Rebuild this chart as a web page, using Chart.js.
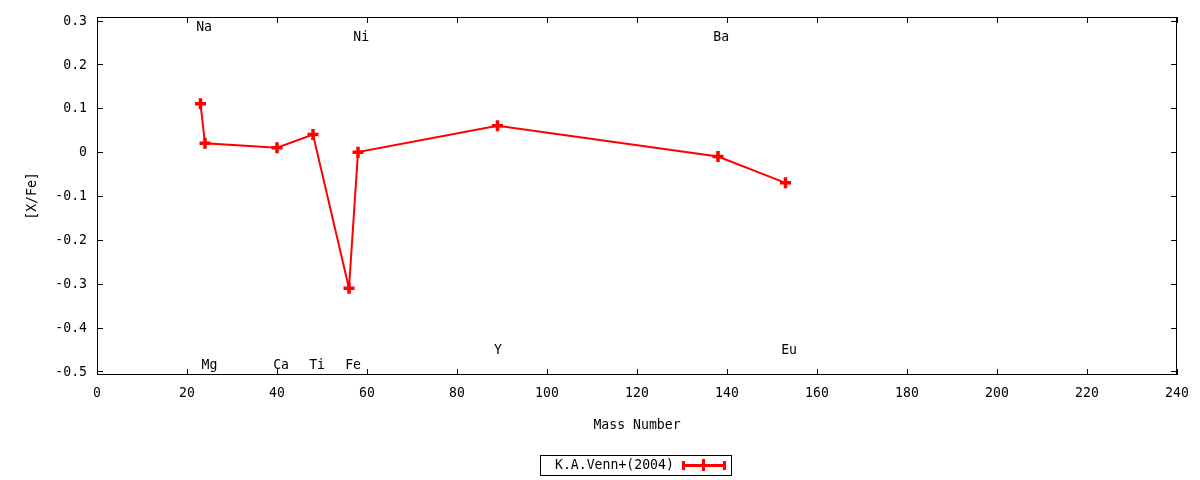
<!DOCTYPE html>
<html>
<head>
<meta charset="utf-8">
<script src="https://cdn.jsdelivr.net/npm/chart.js@4"></script>
<style>
  html, body { margin: 0; padding: 0; background: #fff; }
  #wrap { width: 1200px; height: 480px; }
</style>
</head>
<body>
<div id="wrap"><canvas id="abund"></canvas></div>
<script>
// Venn et al. (2004) abundances vs mass number
const elements = ['Na', 'Mg', 'Ca', 'Ti', 'Fe', 'Ni', 'Y', 'Ba', 'Eu'];
const massNumber = [23, 24, 40, 48, 56, 58, 89, 138, 153];
const xFe = [0.11, 0.02, 0.01, 0.04, -0.31, 0.00, 0.06, -0.01, -0.07];

// element labels (data coords)
const labelX = [23.8, 25.0, 40.9, 48.9, 56.9, 58.7, 89.1, 138.7, 153.8];
const labelY = [0.285, -0.485, -0.485, -0.485, -0.485, 0.262, -0.452, 0.262, -0.452];

const xTicks = [0, 20, 40, 60, 80, 100, 120, 140, 160, 180, 200, 220, 240];
const yTicks = [-0.5, -0.4, -0.3, -0.2, -0.1, 0, 0.1, 0.2, 0.3];
const yTickLabels = ['-0.5', '-0.4', '-0.3', '-0.2', '-0.1', '0', '0.1', '0.2', '0.3'];

const seriesName = 'K.A.Venn+(2004)';
const RED = '#ff0000';

// gnuplot-ish narrow mono text
function monoText(ctx, str, x, y, align) {
  ctx.save();
  ctx.font = '14px "DejaVu Sans Mono", monospace';
  ctx.textBaseline = 'middle';
  ctx.textAlign = align || 'center';
  ctx.translate(x, y);
  ctx.scale(0.94, 1);
  ctx.fillText(str, 0, 0);
  ctx.restore();
}

// frame, inward ticks, all text and the legend
const gnuplotLook = {
  id: 'gnuplotLook',
  afterDraw(chart) {
    const ctx = chart.ctx;
    const a = chart.chartArea;
    const xs = chart.scales.x, ys = chart.scales.y;
    ctx.save();
    ctx.strokeStyle = '#000';
    ctx.lineWidth = 1;
    ctx.strokeRect(a.left + 0.5, a.top + 0.5, a.right - a.left - 1, a.bottom - a.top - 1);

    ctx.beginPath();
    xTicks.forEach(v => {
      const px = Math.round(xs.getPixelForValue(v)) + 0.5;
      ctx.moveTo(px, a.bottom); ctx.lineTo(px, a.bottom - 6);
      ctx.moveTo(px, a.top); ctx.lineTo(px, a.top + 6);
    });
    yTicks.forEach(v => {
      const py = Math.round(ys.getPixelForValue(v)) + 0.5;
      ctx.moveTo(a.left, py); ctx.lineTo(a.left + 6, py);
      ctx.moveTo(a.right, py); ctx.lineTo(a.right - 6, py);
    });
    ctx.stroke();

    ctx.fillStyle = '#000';
    xTicks.forEach(v => monoText(ctx, String(v), xs.getPixelForValue(v), 393));
    yTicks.forEach((v, i) => monoText(ctx, yTickLabels[i], 87, ys.getPixelForValue(v) + 0.5, 'right'));

    elements.forEach((el, i) => {
      monoText(ctx, el, xs.getPixelForValue(labelX[i]), ys.getPixelForValue(labelY[i]));
    });

    // axis titles
    monoText(ctx, 'Mass Number', (a.left + a.right) / 2, 425);
    ctx.save();
    ctx.translate(32, (a.top + a.bottom) / 2);
    ctx.rotate(-Math.PI / 2);
    monoText(ctx, '[X/Fe]', 0, 0);
    ctx.restore();

    // legend box
    ctx.strokeRect(540.5, 455.5, 191, 20);
    monoText(ctx, seriesName, 555, 465, 'left');
    ctx.strokeStyle = RED;
    ctx.lineWidth = 3;
    ctx.beginPath();
    ctx.moveTo(683, 465.5); ctx.lineTo(725, 465.5);
    ctx.moveTo(683.5, 461); ctx.lineTo(683.5, 470);
    ctx.moveTo(724.5, 461); ctx.lineTo(724.5, 470);
    ctx.moveTo(703.5, 459); ctx.lineTo(703.5, 471);
    ctx.stroke();
    ctx.restore();
  }
};

new Chart(document.getElementById('abund'), {
  type: 'scatter',
  data: {
    datasets: [{
      label: seriesName,
      data: massNumber.map((m, i) => ({ x: m, y: xFe[i] })),
      showLine: true,
      borderColor: RED,
      backgroundColor: RED,
      borderWidth: 2,
      tension: 0,
      pointStyle: 'cross',
      pointRadius: 5.5,
      pointBorderWidth: 3.5,
      pointBorderColor: RED
    }]
  },
  options: {
    responsive: true,
    maintainAspectRatio: false,
    animation: false,
    devicePixelRatio: 1,
    layout: { padding: { top: 17, right: 23, left: 0, bottom: 0 } },
    plugins: {
      legend: { display: false },
      tooltip: { enabled: false }
    },
    scales: {
      x: {
        type: 'linear',
        min: 0,
        max: 240,
        afterBuildTicks: s => { s.ticks = xTicks.map(v => ({ value: v })); },
        afterFit: s => { s.height = 105; },
        grid: { display: false, drawTicks: false },
        border: { display: false },
        ticks: { display: false }
      },
      y: {
        type: 'linear',
        min: -0.508,
        max: 0.308,
        afterBuildTicks: s => { s.ticks = yTicks.map(v => ({ value: v })); },
        afterFit: s => { s.width = 97; },
        grid: { display: false, drawTicks: false },
        border: { display: false },
        ticks: { display: false }
      }
    }
  },
  plugins: [gnuplotLook]
});
</script>
</body>
</html>
